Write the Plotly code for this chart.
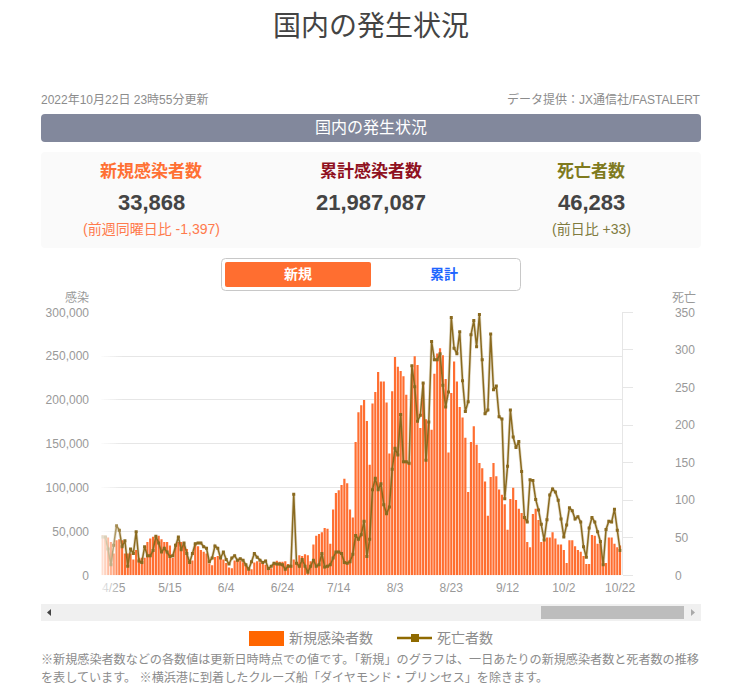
import pandas as pd
import plotly.graph_objects as go

W = 741
H = 697

dates = pd.date_range("2022-04-21", "2022-10-22", freq="D")

new_cases = [
    46000, 45000, 43000, 38000, 25000, 40000, 41000, 40000, 25000, 25000,
    25000, 18000, 29000, 20000, 20000, 20000, 38000, 42000, 44000, 45000,
    45000, 41000, 38000, 38000, 34000, 20000, 36000, 38000, 38000, 35000,
    30000, 17000, 17000, 35000, 33000, 29000, 27000, 25000, 13500, 11500,
    21000, 22000, 19000, 18000, 14000, 9000, 8000, 17000, 17000, 17000,
    15000, 12000, 8000, 7000, 14500, 16000, 15000, 14000, 12000, 7000,
    8000, 15000, 16500, 15500, 15500, 16000, 13000, 12000, 18000, 15000,
    23000, 22000, 24000, 23000, 16000, 35000, 45000, 47000, 49000, 54000,
    53000, 36000, 75000, 94000, 97000, 103000, 110000, 105000, 75000, 66000,
    152000, 186000, 194000, 200000, 176000, 126000, 196000, 209000, 232000, 221000,
    221000, 197000, 139000, 210000, 249000, 238000, 233000, 227000, 206000, 128000,
    230000, 250000, 240000, 168000, 219000, 178000, 175000, 166000, 230000, 253000,
    259000, 251000, 224000, 140000, 208000, 244000, 221000, 192000, 180000, 157000,
    95000, 152000, 170000, 149000, 128000, 122000, 107000, 68000, 112000, 128000,
    113000, 98000, 92000, 81000, 52000, 87000, 100000, 86000, 76000, 71000,
    65000, 38000, 32000, 70000, 76000, 63000, 38000, 40000, 43000, 43000,
    49000, 42000, 35000, 35000, 29000, 14000, 40000, 40000, 33000, 29000,
    27000, 22000, 13000, 13000, 46000, 45000, 36000, 38000, 16000, 14000,
    43000, 43000, 36000, 32000, 33868,
]

deaths = [
    51, 51, 35, 14, 40, 66, 60, 38, 46, 12,
    35, 29, 58, 19, 17, 38, 26, 26, 33, 52,
    43, 31, 36, 31, 25, 26, 40, 51, 34, 43,
    29, 17, 29, 42, 43, 43, 38, 36, 18, 23,
    39, 36, 23, 31, 21, 15, 23, 26, 20, 22,
    20, 14, 8, 18, 29, 24, 20, 17, 19, 9,
    12, 16, 15, 15, 14, 8, 12, 12, 108, 16,
    12, 21, 12, 4, 12, 20, 12, 14, 29, 11,
    12, 14, 23, 31, 31, 29, 17, 16, 18, 28,
    53, 48, 54, 72, 25, 48, 114, 129, 114, 122,
    94, 82, 91, 141, 169, 160, 214, 151, 151, 149,
    279, 251, 205, 213, 256, 153, 204, 311, 287, 287,
    295, 253, 224, 244, 343, 302, 295, 324, 259, 218,
    231, 320, 339, 304, 347, 287, 215, 220, 321, 247,
    252, 211, 208, 102, 145, 220, 184, 170, 178, 138,
    77, 71, 127, 126, 101, 87, 68, 47, 74, 107,
    115, 111, 100, 75, 51, 67, 90, 86, 75, 78,
    71, 38, 24, 63, 77, 71, 58, 45, 14, 61,
    72, 71, 88, 60, 33,
]

tick_dates = ["2022-04-25", "2022-05-15", "2022-06-04", "2022-06-24", "2022-07-14",
              "2022-08-03", "2022-08-23", "2022-09-12", "2022-10-02", "2022-10-22"]
tick_labels = ["4/25", "5/15", "6/4", "6/24", "7/14", "8/3", "8/23", "9/12", "10/2", "10/22"]

FONT = "Liberation Sans, Noto Sans CJK JP, sans-serif"
ORANGE = "#ff6e30"
LINE = "#8a6a1f"
GRAY = "#8c8c8c"


def px(x):
    return x / W


def py(y):
    return 1 - y / H


def rounded(x0, y0, x1, y1, r):
    # rounded rectangle as svg path, in paper coords
    a, b, c, d = px(x0), py(y0), px(x1), py(y1)
    rx, ry = r / W, r / H
    return (f"M{a + rx},{b} L{c - rx},{b} Q{c},{b} {c},{b - ry} L{c},{d + ry} Q{c},{d} {c - rx},{d} "
            f"L{a + rx},{d} Q{a},{d} {a},{d + ry} L{a},{b - ry} Q{a},{b} {a + rx},{b} Z")


def box(x0, y0, x1, y1, color, r=0, line=None):
    shape = dict(type="path", path=rounded(x0, y0, x1, y1, r), xref="paper", yref="paper",
                 fillcolor=color, line=dict(width=1 if line else 0, color=line or color), layer="below")
    return shape


def label(x, y, text, size, color, anchor="center", bold=False):
    if bold:
        text = "<b>" + text + "</b>"
    return dict(x=px(x), y=py(y), xref="paper", yref="paper", text=text, showarrow=False,
                xanchor=anchor, yanchor="middle", font=dict(size=size, color=color, family=FONT))


fig = go.Figure()
fig.add_trace(go.Bar(x=dates, y=new_cases, name="新規感染者数", marker_color=ORANGE,
                     marker_line_width=0, yaxis="y"))
fig.add_trace(go.Scatter(x=dates, y=deaths, mode="lines", yaxis="y2", hoverinfo="skip",
                         line=dict(color="rgba(138,106,31,0.25)", width=3), showlegend=False))
fig.add_trace(go.Scatter(x=dates, y=deaths, name="死亡者数", mode="lines+markers", yaxis="y2",
                         line=dict(color=LINE, width=1.5), marker=dict(color=LINE, size=3, symbol="square")))

shapes = [
    box(41, 114, 701, 142, "#82889c", r=4),
    box(41, 152, 701, 248, "#fafafa", r=4),
    box(221.5, 258.5, 520.5, 290.5, "#ffffff", r=4, line="#c8c8c8"),
    box(225, 262, 371, 287, ORANGE, r=2),
    box(41, 604, 701, 621, "#f0f0f0"),
    box(541, 606, 684, 619, "#bdbdbd"),
    box(249, 631, 284, 646, "#ff6600"),
]
# scrollbar arrows
for pts, col in [([(47, 612.5), (51, 609), (51, 616)], "#444444"), ([(695, 612.5), (691, 609), (691, 616)], "#aaaaaa")]:
    path = "M" + " L".join(f"{px(a)},{py(b)}" for a, b in pts) + " Z"
    shapes.append(dict(type="path", path=path, xref="paper", yref="paper", fillcolor=col, line_width=0))
# legend line sample
shapes.append(dict(type="line", xref="paper", yref="paper", x0=px(397), x1=px(432), y0=py(638), y1=py(638),
                   line=dict(color="#8f6a00", width=2.5)))
shapes.append(dict(type="rect", xref="paper", yref="paper", x0=px(411), x1=px(419), y0=py(634), y1=py(642),
                   fillcolor="#8f6a00", line_width=0))
# white fade over the left end of the plot
for k in range(11):
    shapes.append(dict(type="rect", xref="paper", yref="paper", x0=px(100 + k * 2), x1=px(102 + k * 2),
                       y0=py(305), y1=py(592), fillcolor="#ffffff", opacity=0.85 * (1 - k / 11),
                       line_width=0, layer="above"))

annotations = [
    label(371, 26, "国内の発生状況", 28, "#444444"),
    label(39, 100, "2022年10月22日 23時55分更新", 12, GRAY, anchor="left"),
    label(703, 100, "データ提供：JX通信社/FASTALERT", 12, GRAY, anchor="right"),
    label(371, 128, "国内の発生状況", 16, "#ffffff"),
    label(151, 171, "新規感染者数", 17, "#ff7033", bold=True),
    label(371, 171, "累計感染者数", 17, "#8f1020", bold=True),
    label(591, 171, "死亡者数", 17, "#7f7a1e", bold=True),
    label(151, 202, "33,868", 22, "#444444", bold=True),
    label(371, 202, "21,987,087", 22, "#444444", bold=True),
    label(591, 202, "46,283", 22, "#444444", bold=True),
    label(151, 229, "(前週同曜日比 -1,397)", 14, "#ff7a4d"),
    label(591, 229, "(前日比 +33)", 14, "#7f7a3e"),
    label(298, 274, "新規", 14, "#ffffff", bold=True),
    label(444, 274, "累計", 14, "#1e66ff", bold=True),
    label(91, 298, "感染", 12, "#999999", anchor="right"),
    label(670, 298, "死亡", 12, "#999999", anchor="left"),
    label(287, 638, "新規感染者数", 14, GRAY, anchor="left"),
    label(435, 638, "死亡者数", 14, GRAY, anchor="left"),
    label(39, 659, "※新規感染者数などの各数値は更新日時時点での値です。「新規」のグラフは、一日あたりの新規感染者数と死者数の推移", 12.1, GRAY, anchor="left"),
    label(39, 677, "を表しています。 ※横浜港に到着したクルーズ船「ダイヤモンド・プリンセス」を除きます。", 12.1, GRAY, anchor="left"),
]

tick_font = dict(size=12, color="#999999", family=FONT)

fig.update_layout(
    width=W,
    height=H,
    margin=dict(l=0, r=0, t=0, b=0),
    paper_bgcolor="#ffffff",
    plot_bgcolor="#ffffff",
    showlegend=False,
    bargap=0.22,
    font=dict(family=FONT),
    shapes=shapes,
    annotations=annotations,
    xaxis=dict(
        domain=[px(101), px(621.5)],
        automargin=False,
        type="date",
        range=["2022-04-20 12:00", "2022-10-22 12:00"],
        tickvals=tick_dates,
        ticktext=tick_labels,
        tickangle=0,
        showgrid=False,
        ticks="",
        ticklabelstandoff=4,
        tickfont=tick_font,
        zeroline=False,
    ),
    yaxis=dict(
        domain=[py(575.3), py(312.3)],
        automargin=False,
        range=[0, 300000],
        dtick=50000,
        tickformat=",d",
        gridcolor="#e6e6e6",
        gridwidth=1,
        zeroline=False,
        ticks="",
        ticklabelstandoff=11,
        tickfont=tick_font,
    ),
    yaxis2=dict(
        domain=[py(575.3), py(312.3)],
        automargin=False,
        overlaying="y",
        side="right",
        anchor="x",
        range=[0, 350],
        dtick=50,
        showgrid=False,
        zeroline=False,
        showline=True,
        linecolor="#e6e6e6",
        ticks="outside",
        ticklen=10,
        tickcolor="#e6e6e6",
        ticklabelstandoff=40,
        tickfont=tick_font,
    ),
)

fig.write_html("out.html", config={"displayModeBar": False},
               post_script="document.body.style.margin='0';")
